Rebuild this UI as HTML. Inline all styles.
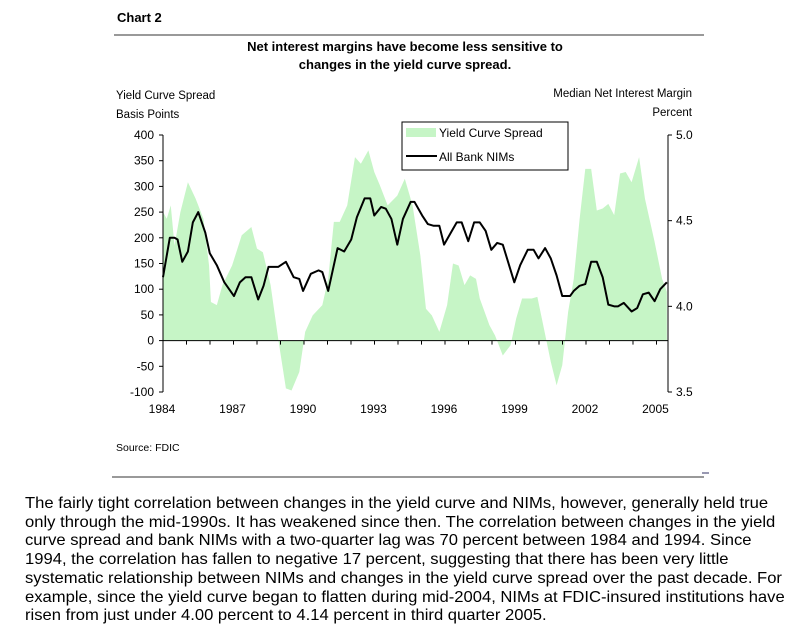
<!DOCTYPE html>
<html><head><meta charset="utf-8"><style>
body{margin:0;background:#fff;width:803px;height:639px;overflow:hidden;font-family:"Liberation Sans",Arial,sans-serif}
#para{position:absolute;left:25px;top:495px;font-size:15.6px;line-height:18.7px;color:#000;transform:scaleX(1.065);transform-origin:0 0}
#para div{white-space:nowrap}
</style></head><body>
<svg id="chart" width="803" height="490" style="position:absolute;left:0;top:0" font-family="Liberation Sans, Arial, sans-serif">
<text x="117" y="22" font-size="13" font-weight="bold">Chart 2</text>
<line x1="114" y1="35" x2="704" y2="35" stroke="#333" stroke-width="1"/>
<text x="405" y="51" font-size="13" font-weight="bold" text-anchor="middle">Net interest margins have become less sensitive to</text>
<text x="405" y="69" font-size="13" font-weight="bold" text-anchor="middle">changes in the yield curve spread.</text>
<text x="116" y="99" font-size="11.5">Yield Curve Spread</text>
<text x="116" y="118" font-size="11.5">Basis Points</text>
<text x="692" y="97" font-size="11.5" text-anchor="end">Median Net Interest Margin</text>
<text x="692" y="116" font-size="11.5" text-anchor="end">Percent</text>
<g id="plot"></g>
<rect x="402" y="122" width="166" height="48" fill="#fff" stroke="#000" stroke-width="1"/>
<rect x="406" y="128" width="30" height="9" fill="#c6f5c6"/>
<text x="439" y="137" font-size="12">Yield Curve Spread</text>
<line x1="406" y1="156" x2="437" y2="156" stroke="#000" stroke-width="2"/>
<text x="439" y="161" font-size="12">All Bank NIMs</text>
<text x="116" y="451" font-size="10.5">Source: FDIC</text>
<line x1="112" y1="477" x2="704" y2="477" stroke="#333" stroke-width="1"/>
<line x1="702" y1="473" x2="709" y2="473" stroke="#336" stroke-width="1"/>
</svg>
<div id="para">
<div>The fairly tight correlation between changes in the yield curve and NIMs, however, generally held true</div>
<div>only through the mid-1990s. It has weakened since then. The correlation between changes in the yield</div>
<div>curve spread and bank NIMs with a two-quarter lag was 70 percent between 1984 and 1994. Since</div>
<div>1994, the correlation has fallen to negative 17 percent, suggesting that there has been very little</div>
<div>systematic relationship between NIMs and changes in the yield curve spread over the past decade. For</div>
<div>example, since the yield curve began to flatten during mid-2004, NIMs at FDIC-insured institutions have</div>
<div>risen from just under 4.00 percent to 4.14 percent in third quarter 2005.</div>
</div>
<script>
const spreadDates=[1984.00,1984.16,1984.33,1984.49,1984.74,1985.06,1985.39,1985.72,1985.96,1986.04,1986.29,1986.53,1986.94,1987.35,1987.76,1988.00,1988.25,1988.58,1988.90,1989.23,1989.47,1989.80,1990.05,1990.37,1990.78,1991.03,1991.27,1991.52,1991.84,1992.17,1992.42,1992.74,1992.99,1993.23,1993.56,1993.97,1994.29,1994.62,1994.95,1995.19,1995.44,1995.76,1996.09,1996.34,1996.58,1996.83,1997.07,1997.32,1997.48,1997.89,1998.13,1998.46,1998.79,1999.03,1999.28,1999.69,1999.93,2000.18,2000.50,2000.75,2000.99,2001.24,2001.48,2001.73,2001.97,2002.22,2002.46,2002.71,2002.95,2003.20,2003.45,2003.69,2003.94,2004.26,2004.51,2004.92,2005.24,2005.44];
const spreadValues=[250,237,263,185,250,308,276,237,146,75,69,108,146,205,221,179,172,108,4,-93,-97,-61,17,49,69,120,231,231,263,357,344,370,328,302,263,282,315,263,166,62,49,17,69,150,146,108,127,120,82,30,10,-29,-9,43,82,82,85,30,-41,-87,-48,56,120,237,334,334,253,257,266,244,325,328,308,357,276,192,120,95];
const nimDates=[1984.00,1984.29,1984.49,1984.62,1984.82,1985.06,1985.27,1985.50,1985.80,1985.99,1986.29,1986.61,1987.02,1987.27,1987.51,1987.76,1988.05,1988.28,1988.49,1988.90,1989.23,1989.56,1989.80,1989.96,1990.29,1990.62,1990.78,1991.03,1991.43,1991.71,1992.01,1992.25,1992.58,1992.82,1992.99,1993.28,1993.48,1993.72,1993.97,1994.21,1994.54,1994.70,1995.03,1995.27,1995.52,1995.76,1995.96,1996.25,1996.50,1996.71,1996.99,1997.24,1997.48,1997.73,1997.97,1998.22,1998.46,1998.95,1999.20,1999.52,1999.77,1999.98,2000.26,2000.50,2000.75,2000.99,2001.32,2001.48,2001.73,2001.97,2002.22,2002.46,2002.71,2002.95,2003.20,2003.36,2003.61,2003.94,2004.18,2004.42,2004.67,2004.92,2005.16,2005.44];
const nimValues=[4.17,4.40,4.40,4.39,4.26,4.32,4.49,4.55,4.43,4.31,4.24,4.14,4.06,4.14,4.17,4.17,4.04,4.12,4.23,4.23,4.26,4.17,4.16,4.09,4.19,4.21,4.20,4.09,4.34,4.32,4.39,4.52,4.63,4.63,4.53,4.58,4.57,4.51,4.36,4.51,4.61,4.61,4.53,4.48,4.47,4.47,4.36,4.43,4.49,4.49,4.38,4.49,4.49,4.44,4.33,4.37,4.36,4.14,4.24,4.33,4.33,4.28,4.34,4.28,4.18,4.06,4.06,4.09,4.12,4.13,4.26,4.26,4.17,4.01,4.00,4.00,4.02,3.97,3.99,4.07,4.08,4.03,4.10,4.14];
const leftTicks=[400,350,300,250,200,150,100,50,0,-50,-100];
const rightTicks=["5.0","4.5","4.0","3.5"];
const yearLabels=[1984,1987,1990,1993,1996,1999,2002,2005];

const X0=163,X1=668,T0=1984,T1=2005.49,YT=135,YB=392;
const xS=t=>X0+(t-T0)/(T1-T0)*(X1-X0);
const yL=v=>YT+(400-v)/500*(YB-YT);
const yR=v=>YT+(5.0-v)/1.5*(YB-YT);
const NS="http://www.w3.org/2000/svg";
const g=document.getElementById('plot');
function mk(tag,attrs){const e=document.createElementNS(NS,tag);for(const k in attrs)e.setAttribute(k,attrs[k]);g.appendChild(e);return e;}

let d=`M${xS(spreadDates[0])},${yL(0)}`;
spreadDates.forEach((t,i)=>{d+=` L${xS(t)},${yL(spreadValues[i])}`;});
d+=` L${xS(spreadDates[spreadDates.length-1])},${yL(0)} Z`;
const area=mk('path',{d:d,fill:'#c6f5c6'});



const la=mk('line',{x1:X0,y1:YT,x2:X0,y2:YB,stroke:'#000'});


const ra=mk('line',{x1:X1,y1:YT,x2:X1,y2:YB,stroke:'#000'});


const xa=mk('line',{x1:X0,y1:yL(0),x2:X1,y2:yL(0),stroke:'#000'});



leftTicks.forEach(v=>{
  const y=yL(v);
  mk('line',{x1:X0-4,y1:y,x2:X0,y2:y,stroke:'#000'});
  const t=mk('text',{x:X0-9,y:y+4,'font-size':12,'text-anchor':'end'});
  t.textContent=v;
  
  
});
rightTicks.forEach(v=>{
  const y=yR(parseFloat(v));
  mk('line',{x1:X1,y1:y,x2:X1+4,y2:y,stroke:'#000'});
  const t=mk('text',{x:X1+8,y:y+4,'font-size':12});
  t.textContent=v;
  
  
});
for(let yr=1984;yr<=2005;yr++){
  mk('line',{x1:xS(yr),y1:yL(0),x2:xS(yr),y2:yL(0)+4,stroke:'#000'});
}
yearLabels.forEach(yr=>{
  const t=mk('text',{x:xS(yr)-1,y:YB+21,'font-size':12,'text-anchor':'middle'});
  t.textContent=yr;
  
  
});

const pts=nimDates.map((t,i)=>`${xS(t)},${yR(nimValues[i])}`).join(' ');
const line=mk('polyline',{points:pts,fill:'none',stroke:'#000','stroke-width':2,'stroke-linejoin':'round'});


</script>
</body></html>
